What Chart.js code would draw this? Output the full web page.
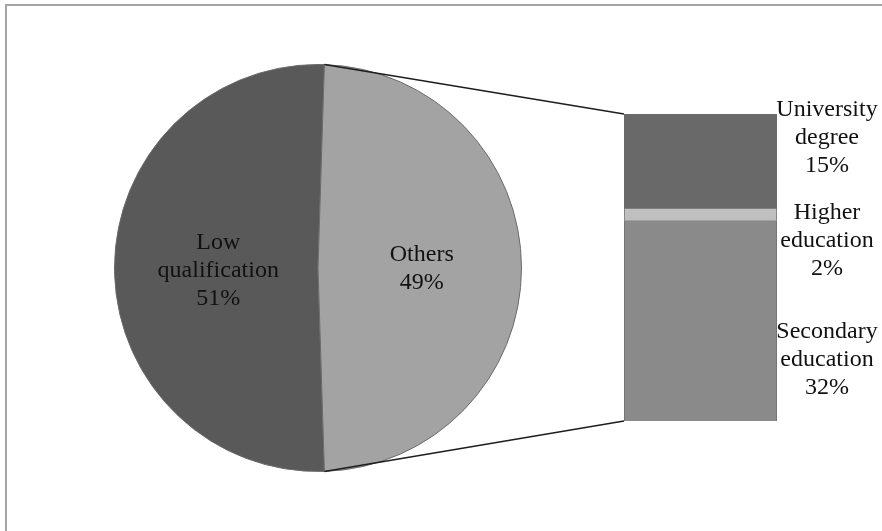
<!DOCTYPE html>
<html>
<head>
<meta charset="utf-8">
<script src="https://cdn.jsdelivr.net/npm/chart.js@4"></script>
<style>
    body { margin: 0; background: #fff; }
    #wrap { position: relative; width: 882px; height: 531px; overflow: hidden; background: #fff; }
    #frame { position: absolute; left: 5px; top: 4px; width: 900px; height: 560px;
             border-top: 2px solid #a6a6a6; border-left: 2px solid #a6a6a6; }
    canvas { position: absolute; }
    #pieChart { left: 108px; top: 58px; }
    #barChart { left: 600px; top: 90px; }
    #links { left: 0; top: 0; pointer-events: none; }
</style>
</head>
<body>
<div id="wrap">
    <div id="frame"></div>
    <canvas id="pieChart" width="420" height="420"></canvas>
    <canvas id="barChart" width="282" height="360"></canvas>
    <canvas id="links" width="882" height="531"></canvas>
</div>
<script>
// pie principale
const pieLabels = [['Low', 'qualification'], ['Others']];
const pieValues = [51, 49];
const pieColors = ['#595959', '#a3a3a3'];

// dettaglio "Others" (dal basso verso l'alto)
const barLabels = [['Secondary', 'education'], ['Higher', 'education'], ['University', 'degree']];
const barValues = [32, 2, 15];
const barColors = ['#8a8a8a', '#bfbfbf', '#696969'];

const FONT = '24px "Liberation Serif", "Times New Roman", serif';

function pctText(v) { return v + '%'; }

function drawLines(ctx, lines, x, y, lh) {
    const top = y - (lines.length - 1) * lh / 2;
    lines.forEach((l, i) => ctx.fillText(l, x, top + i * lh));
}

// Others centrato a destra (ore 3)
const total = pieValues.reduce((a, b) => a + b, 0);
const rotation = 90 - 180 * pieValues[1] / total - 360 * pieValues[0] / total;

const pieLabelPlugin = {
    id: 'pieLabels',
    afterDatasetsDraw(chart) {
        const ctx = chart.ctx;
        const meta = chart.getDatasetMeta(0);
        ctx.save();
        ctx.font = FONT;
        ctx.fillStyle = '#111';
        ctx.textAlign = 'center';
        ctx.textBaseline = 'middle';
        meta.data.forEach((arc, i) => {
            const p = arc.tooltipPosition();
            const lines = pieLabels[i].concat([pctText(pieValues[i])]);
            drawLines(ctx, lines, p.x + 2, p.y + (i === 1 ? 1 : 3), 28);
        });
        ctx.restore();
    }
};

const pieChart = new Chart(document.getElementById('pieChart'), {
    type: 'pie',
    data: {
        labels: pieLabels.map(l => l.join(' ')),
        datasets: [{
            data: pieValues,
            backgroundColor: pieColors,
            borderColor: '#6b6b6b',
            borderWidth: 1
        }]
    },
    options: {
        responsive: false,
        animation: false,
        rotation: rotation,
        layout: { padding: 6 },
        plugins: { legend: { display: false }, tooltip: { enabled: false } }
    },
    plugins: [pieLabelPlugin]
});

// spostamenti verticali delle etichette rispetto al centro del segmento
const labelShift = [39, 26, -23];

const barLabelPlugin = {
    id: 'barLabels',
    afterDatasetsDraw(chart) {
        const ctx = chart.ctx;
        ctx.save();
        ctx.font = FONT;
        ctx.fillStyle = '#111';
        ctx.textAlign = 'center';
        ctx.textBaseline = 'middle';
        chart.data.datasets.forEach((ds, i) => {
            const bar = chart.getDatasetMeta(i).data[0];
            const x = bar.x + bar.width / 2 + 50;
            const y = (bar.y + bar.base) / 2 + labelShift[i];
            const lines = barLabels[i].concat([pctText(barValues[i])]);
            drawLines(ctx, lines, x, y, 28);
        });
        ctx.restore();
    }
};

const barChart = new Chart(document.getElementById('barChart'), {
    type: 'bar',
    data: {
        labels: ['Others'],
        datasets: barValues.map((v, i) => ({
            label: barLabels[i].join(' '),
            data: [v],
            backgroundColor: barColors[i],
            borderColor: '#6b6b6b',
            borderWidth: 1,
            barPercentage: 1,
            categoryPercentage: 1
        }))
    },
    options: {
        responsive: false,
        animation: false,
        layout: { padding: { left: 24, right: 105, top: 24, bottom: 29 } },
        scales: {
            x: { stacked: true, display: false },
            y: { stacked: true, display: false, min: 0, max: barValues.reduce((a, b) => a + b, 0) }
        },
        plugins: { legend: { display: false }, tooltip: { enabled: false } }
    },
    plugins: [barLabelPlugin]
});

// linee di collegamento tra la fetta "Others" e la barra
function drawConnectors() {
    const ctx = document.getElementById('links').getContext('2d');
    const arc = pieChart.getDatasetMeta(0).data[1];
    const pieBox = document.getElementById('pieChart');
    const barBox = document.getElementById('barChart');
    const px = pieBox.offsetLeft, py = pieBox.offsetTop;
    const bx = barBox.offsetLeft, by = barBox.offsetTop;
    const r = arc.outerRadius;
    const a1 = arc.startAngle, a2 = arc.endAngle;
    const p1 = { x: px + arc.x + r * Math.cos(a1), y: py + arc.y + r * Math.sin(a1) };
    const p2 = { x: px + arc.x + r * Math.cos(a2), y: py + arc.y + r * Math.sin(a2) };
    const topBar = barChart.getDatasetMeta(barValues.length - 1).data[0];
    const botBar = barChart.getDatasetMeta(0).data[0];
    const left = bx + topBar.x - topBar.width / 2;
    ctx.strokeStyle = '#1e1e1e';
    ctx.lineWidth = 1.5;
    ctx.beginPath();
    ctx.moveTo(p1.x, p1.y);
    ctx.lineTo(left, by + topBar.y);
    ctx.moveTo(p2.x, p2.y);
    ctx.lineTo(left, by + botBar.base);
    ctx.stroke();
}

drawConnectors();
</script>
</body>
</html>
